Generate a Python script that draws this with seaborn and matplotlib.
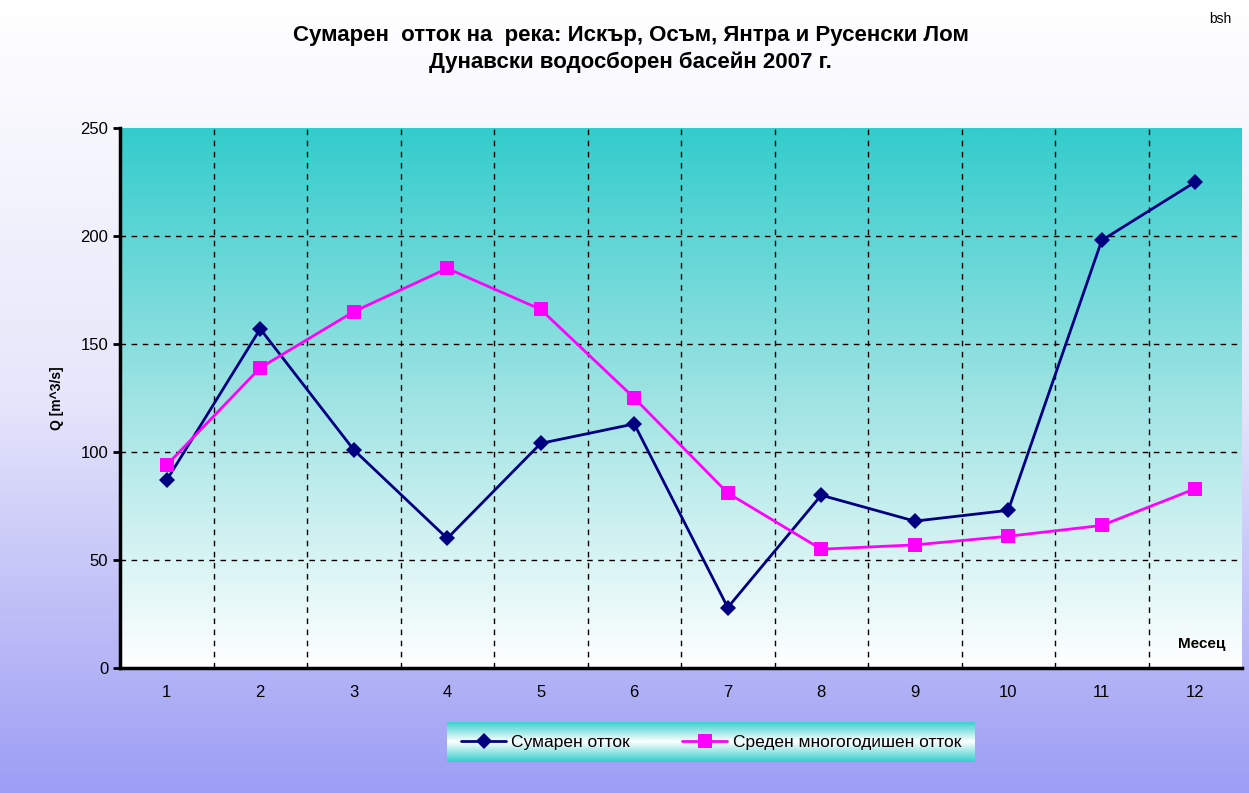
import numpy as np
import pandas as pd
import matplotlib
matplotlib.use("Agg")
import matplotlib.pyplot as plt
from matplotlib.colors import LinearSegmentedColormap
import seaborn as sns

meseci = [1, 2, 3, 4, 5, 6, 7, 8, 9, 10, 11, 12]
sumaren = [87, 157, 101, 60, 104, 113, 28, 80, 68, 73, 198, 225]
sreden = [94, 139, 165, 185, 166, 125, 81, 55, 57, 61, 66, 83]
y_ticks = [0, 50, 100, 150, 200, 250]

df = pd.DataFrame({
    "Месец": meseci * 2,
    "Q": sumaren + sreden,
    "serija": ["Сумарен отток"] * 12 + ["Среден многогодишен отток"] * 12,
})

sns.set_style("white")
plt.rcParams["font.family"] = ["Liberation Sans", "DejaVu Sans"]
plt.rcParams["text.color"] = "black"
plt.rcParams["xtick.color"] = "black"
plt.rcParams["ytick.color"] = "black"
plt.rcParams["axes.labelcolor"] = "black"

fig = plt.figure(figsize=(12.49, 7.93), dpi=100)

# фон на фигурата - градиент бяло -> лилаво
bg = fig.add_axes([0, 0, 1, 1], zorder=-10)
grad = np.linspace(0, 1, 256).reshape(-1, 1)
cm_bg = LinearSegmentedColormap.from_list("bg", ["#ffffff", "#e6e6fb", "#9d9df5"])
bg.imshow(grad, aspect="auto", cmap=cm_bg, extent=[0, 1, 0, 1], origin="upper")
bg.set_axis_off()

ax = fig.add_axes([120 / 1249, 1 - 668 / 793, 1122 / 1249, 540 / 793])
cm_ax = LinearSegmentedColormap.from_list("ax", ["#33cccc", "#9fe3e3", "#ffffff"])
ax.imshow(grad, aspect="auto", cmap=cm_ax, extent=[0.5, 12.5, 0, 250],
          origin="upper", zorder=0)

sns.lineplot(data=df, x="Месец", y="Q", hue="serija", style="serija",
             palette=["#000080", "#ff00ff"], markers=["D", "s"], dashes=False,
             markersize=9, linewidth=2, markeredgewidth=0, ax=ax, zorder=3)
for ln in ax.lines:
    if ln.get_marker() == "D":
        ln.set_markersize(8)
    elif ln.get_marker() == "s":
        ln.set_markersize(10)

ax.set_xlim(0.5, 12.5)
ax.set_ylim(0, 250)
ax.set_xticks(meseci)
ax.set_xticks(np.arange(0.5, 13, 1), minor=True)
ax.set_yticks(y_ticks)
ax.tick_params(axis="x", which="major", length=0, labelsize=12, pad=12)
ax.tick_params(axis="x", which="minor", length=5, width=2, direction="out")
ax.tick_params(axis="y", length=5, width=2, labelsize=12, left=True)
for yv in y_ticks[1:-1]:
    ax.axhline(yv, color="black", ls=(0, (4, 4)), lw=1, zorder=1)
for xv in np.arange(1.5, 12, 1):
    ax.axvline(xv, color="black", ls=(0, (4, 4)), lw=1, zorder=1)
for s in ["top", "right"]:
    ax.spines[s].set_visible(False)
ax.spines["left"].set_linewidth(2.5)
ax.spines["bottom"].set_linewidth(2.5)
ax.spines["left"].set_color("black")
ax.spines["bottom"].set_color("black")

ax.set_xlabel("")
ax.set_ylabel("Q [m^3/s]", fontsize=10, fontweight="bold", labelpad=12)
ax.text(12.32, 8, "Месец", ha="right", va="bottom", fontsize=11, fontweight="bold")
ax.get_legend().remove()

fig.text(0.505, 0.968, "Сумарен  отток на  река: Искър, Осъм, Янтра и Русенски Лом\nДунавски водосборен басейн 2007 г.",
         ha="center", va="top", fontsize=16, fontweight="bold", linespacing=1.3)
fig.text(0.977, 0.985, "bsh", ha="center", va="top", fontsize=10)

# легенда с градиентен фон
lax = fig.add_axes([447 / 1249, 1 - 762 / 793, 528 / 1249, 40 / 793], zorder=5)
cm_leg = LinearSegmentedColormap.from_list("leg", ["#33cccc", "#ffffff", "#33cccc"])
lax.imshow(grad, aspect="auto", cmap=cm_leg, extent=[0, 1, 0, 1], origin="upper")
lax.set_axis_off()
h, l = ax.get_legend_handles_labels()
lax.legend(h, l, loc="center", ncol=2, frameon=False, fontsize=12.5,
           handlelength=2.6, columnspacing=3, handletextpad=0.3)

fig.savefig("out.png", dpi=100)
